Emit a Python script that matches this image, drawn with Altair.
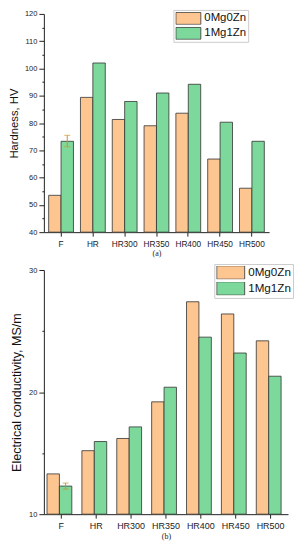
import altair as alt
import pandas as pd

categories = ["F", "HR", "HR300", "HR350", "HR400", "HR450", "HR500"]
series = ["0Mg0Zn", "1Mg1Zn"]
hardness_0 = [53.5, 89.4, 81.3, 79.0, 83.6, 66.8, 56.1]
hardness_1 = [73.3, 102.0, 87.9, 91.0, 94.2, 80.3, 73.3]
cond_0 = [13.3, 15.2, 16.2, 19.2, 27.4, 26.4, 24.2]
cond_1 = [12.3, 15.95, 17.15, 20.4, 24.5, 23.2, 21.3]
hard_err = {"cat": "F", "series": "1Mg1Zn", "lo": 71.3, "hi": 75.5}
cond_err = {"cat": "F", "series": "1Mg1Zn", "lo": 12.05, "hi": 12.55}

colors = ["#FDC590", "#7DD89B"]
FONT = "Liberation Sans"


def long(v0, v1):
    rows = []
    for c, a, b in zip(categories, v0, v1):
        rows.append({"cat": c, "series": series[0], "v": a})
        rows.append({"cat": c, "series": series[1], "v": b})
    return pd.DataFrame(rows)


def panel(df, err, ytitle, ydom, ticks, caption, w, h, pin, pout,
          lx, ly, lfont, sym, xfont, tfont):
    xax = alt.Axis(labelAngle=0, labelFontSize=xfont,
                   labelFont=FONT, labelColor="#222",
                   titleFont="Liberation Serif", titleFontSize=8,
                   titleFontWeight="normal", titlePadding=2,
                   titleColor="#222",
                   tickColor="#222", domainColor="#222", tickSize=4,
                   labelPadding=3)
    xs = alt.X("cat:N", sort=categories, title=caption,
               scale=alt.Scale(paddingInner=pin, paddingOuter=pout),
               axis=xax)
    ysc = alt.Scale(domain=ydom, nice=False, zero=False, clamp=True)
    yax = alt.Axis(values=ticks, labelFontSize=7.5, labelOverlap=False,
                   labelExpr="datum.value % 10 === 0 ? datum.label : ''",
                   tickSize={"condition": {"test": "datum.value % 10 === 0",
                                           "value": 5}, "value": 2},
                   labelFont=FONT, labelColor="#222", labelPadding=2,
                   titleFont=FONT, titleFontSize=tfont,
                   titleFontWeight="normal", titleColor="#111",
                   titlePadding=5,
                   grid=False, tickColor="#222", domainColor="#222")
    bars = alt.Chart(df).mark_bar(stroke="#333", strokeWidth=0.8).encode(
        x=xs,
        xOffset=alt.XOffset("series:N", sort=series),
        y=alt.Y("v:Q", scale=ysc, title=ytitle, axis=yax),
        y2=alt.datum(ydom[0]),
        color=alt.Color("series:N", sort=series,
                        scale=alt.Scale(domain=series, range=colors),
                        legend=alt.Legend(title=None, orient="none",
                                          legendX=lx, legendY=ly,
                                          labelFont=FONT, labelFontSize=lfont,
                                          labelColor="#111",
                                          symbolType="M-1,-0.48H1V0.48H-1Z",
                                          symbolSize=sym * sym,
                                          clipHeight=13,
                                          symbolStrokeColor="#333",
                                          symbolStrokeWidth=0.8,
                                          symbolOpacity=1,
                                          fillColor="white",
                                          strokeColor="#cccccc",
                                          padding=2, rowPadding=2,
                                          labelOffset=3)),
    )
    edf = pd.DataFrame([err])
    base = alt.Chart(edf).encode(
        x=alt.X("cat:N", sort=categories, title=caption, axis=xax),
        xOffset=alt.XOffset("series:N", sort=series),
    )
    rule = base.mark_rule(color="#C9952C", strokeWidth=1).encode(
        y=alt.Y("lo:Q", scale=ysc, title=ytitle, axis=yax), y2="hi:Q")
    cap_lo = base.mark_tick(color="#C9952C", size=6, thickness=1).encode(
        y=alt.Y("lo:Q", scale=ysc, title=ytitle, axis=yax))
    cap_hi = base.mark_tick(color="#C9952C", size=6, thickness=1).encode(
        y=alt.Y("hi:Q", scale=ysc, title=ytitle, axis=yax))
    return alt.layer(bars, rule, cap_lo, cap_hi).properties(width=w, height=h)


top = panel(long(hardness_0, hardness_1), hard_err, "Hardness, HV", [40, 120],
            list(range(40, 121, 5)), "(a)",
            226, 219, 0.22, 0.15, 130, -4, 11.4, 25, 8.3, 11.3)
bottom = panel(long(cond_0, cond_1), cond_err, "Electrical conductivity, MS/m",
               [10, 30], [10, 15, 20, 25, 30], "(b)",
               245, 245, 0.18, 0.09, 171, -6, 11.7, 28, 9, 12.6)

chart = alt.vconcat(top, bottom, spacing=5).resolve_scale(
    color="independent").properties(
    padding={"left": 0, "top": 0, "right": 0, "bottom": 0}
).configure_view(stroke=None)

chart.save("out.html", embed_options={"renderer": "svg", "actions": False})
